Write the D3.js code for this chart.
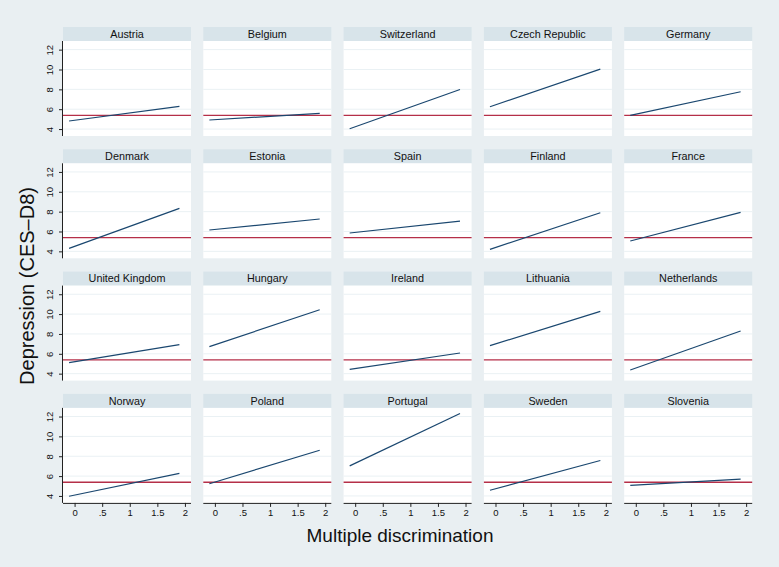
<!DOCTYPE html>
<html><head><meta charset="utf-8">
<script src="https://cdn.jsdelivr.net/npm/d3@7"></script>
<style>body{margin:0;background:#e9eff2}svg{display:block}</style>
</head><body>
<script>
const countries = ["Austria","Belgium","Switzerland","Czech Republic","Germany",
  "Denmark","Estonia","Spain","Finland","France",
  "United Kingdom","Hungary","Ireland","Lithuania","Netherlands",
  "Norway","Poland","Portugal","Sweden","Slovenia"];
const startValues = [4.81,4.91,4.03,6.25,5.38, 4.30,6.15,5.85,4.20,5.04, 5.11,6.72,4.44,6.82,4.37, 3.97,5.23,7.03,4.57,5.07];
const endValues   = [6.28,5.58,7.99,10.04,7.76, 8.33,7.26,7.05,7.89,7.93, 6.92,10.44,6.08,10.28,8.30, 6.27,8.60,12.30,7.57,5.70];
const xEnds = [-0.1, 1.9];
const meanValue = 5.38;
const xTicks = [0, 0.5, 1, 1.5, 2];
const xTickLabels = ["0", ".5", "1", "1.5", "2"];
const yTicks = [4, 6, 8, 10, 12];
const xTitle = "Multiple discrimination";
const yTitle = "Depression (CES\u2013D8)";

const W = 779, H = 567;
const font = "'Liberation Sans', Arial, Helvetica, sans-serif";
const svg = d3.select("body").append("svg").attr("width", W).attr("height", H);
svg.append("rect").attr("width", W).attr("height", H).attr("fill", "#e9eff2");

const ncol = 5, left0 = 63, colStride = 140.3, top0 = 27, rowStride = 122.3;
const pw = 128, hh = 14, ph = 95;
const x = d3.scaleLinear().domain([-0.21, 2.11]).range([0, pw]);
const y = d3.scaleLinear().domain([3.3, 12.87]).range([ph, 0]);
const nrow = Math.ceil(countries.length / ncol);

countries.forEach((c, i) => {
  const r = Math.floor(i / ncol), col = i % ncol;
  const g = svg.append("g").attr("transform", `translate(${left0 + col * colStride},${top0 + r * rowStride})`);
  g.append("rect").attr("width", pw).attr("height", hh).attr("fill", "#d8e4ea");
  g.append("text").attr("x", pw / 2).attr("y", hh / 2 + 3.9).attr("text-anchor", "middle")
    .attr("font-family", font).attr("font-size", 10.8).attr("fill", "#111").text(c);
  const p = g.append("g").attr("transform", `translate(0,${hh})`);
  p.append("rect").attr("width", pw).attr("height", ph).attr("fill", "#ffffff");
  p.selectAll("line.grid").data(yTicks).join("line").attr("class", "grid")
    .attr("x1", 0).attr("x2", pw).attr("y1", d => y(d)).attr("y2", d => y(d))
    .attr("stroke", "#eaf1f4").attr("stroke-width", 1);
  p.append("line").attr("x1", 0).attr("x2", pw).attr("y1", y(meanValue)).attr("y2", y(meanValue))
    .attr("stroke", "#b52f48").attr("stroke-width", 1.3);
  p.append("line").attr("x1", x(xEnds[0])).attr("x2", x(xEnds[1]))
    .attr("y1", y(startValues[i])).attr("y2", y(endValues[i]))
    .attr("stroke", "#1a476f").attr("stroke-width", 1.2);
  if (col === 0) {
    const ax = p.append("g").call(d3.axisLeft(y).tickValues(yTicks).tickSize(4).tickPadding(2).tickSizeOuter(0));
    ax.select(".domain").attr("stroke", "#222").attr("d", `M-0.5,0V${ph}`);
    ax.selectAll(".tick line").attr("stroke", "#222");
    ax.selectAll(".tick text").attr("font-family", font).attr("font-size", 9.5).attr("fill", "#111")
      .attr("text-anchor", "middle").attr("transform", "rotate(-90)").attr("x", 0).attr("y", -10).attr("dy", "0");
  }
  if (r === nrow - 1) {
    const ax = p.append("g").attr("transform", `translate(0,${ph})`)
      .call(d3.axisBottom(x).tickValues(xTicks).tickFormat((d, k) => xTickLabels[k]).tickSize(4).tickPadding(2).tickSizeOuter(0));
    ax.select(".domain").attr("stroke", "#222").attr("d", `M0,0.5H${pw}`);
    ax.selectAll(".tick line").attr("stroke", "#222");
    ax.selectAll(".tick text").attr("font-family", font).attr("font-size", 9.5).attr("fill", "#111");
  }
});

svg.append("text").attr("x", 400).attr("y", 542).attr("text-anchor", "middle")
  .attr("font-family", font).attr("font-size", 19).attr("fill", "#111").text(xTitle);
svg.append("text").attr("transform", "translate(34,286) rotate(-90)").attr("text-anchor", "middle")
  .attr("font-family", font).attr("font-size", 20).attr("fill", "#111").text(yTitle);
</script>
</body></html>
